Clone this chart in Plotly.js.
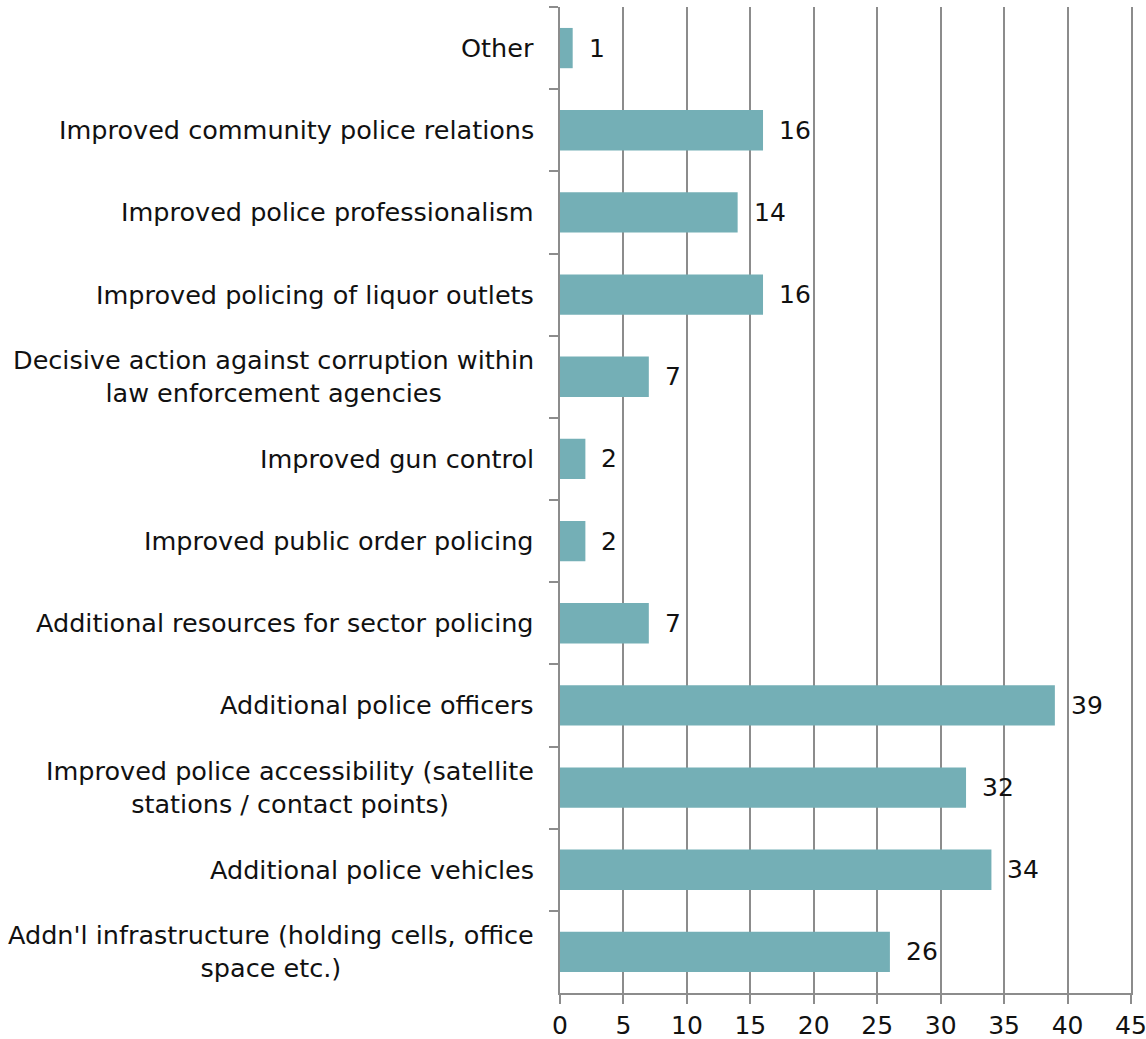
<!DOCTYPE html>
<html>
<head>
<meta charset="utf-8">
<script src="https://cdn.plot.ly/plotly-3.0.1.min.js"></script>
<style>html,body{margin:0;padding:0;background:#fff;}#chart{width:1146px;height:1039px;}</style>
</head>
<body>
<div id="chart"></div>
<script>
const categories = [
  "Other",
  "Improved community police relations",
  "Improved police professionalism",
  "Improved policing of liquor outlets",
  "Decisive action against corruption within<br>law enforcement agencies",
  "Improved gun control",
  "Improved public order policing",
  "Additional resources for sector policing",
  "Additional police officers",
  "Improved police accessibility (satellite<br>stations / contact points)",
  "Additional police vehicles",
  "Addn'l infrastructure (holding cells, office<br>space etc.)"
];
const values = [1, 16, 14, 16, 7, 2, 2, 7, 39, 32, 34, 26];
const xTicks = [0, 5, 10, 15, 20, 25, 30, 35, 40, 45];

const FONT = "DejaVu Sans, sans-serif";
const GRID = "#8c8c8c";

const labelAnns = categories.map((c) => ({
  xref: "paper", yref: "y", x: 0, y: c, text: c,
  xanchor: "right", yanchor: "middle", align: "center",
  xshift: -24, showarrow: false,
  font: {family: FONT, size: 25.5, color: "#111"}
}));
const valueAnns = categories.map((c, i) => ({
  xref: "x", yref: "y", x: values[i], y: c, text: String(values[i]),
  xanchor: "left", yanchor: "middle", xshift: 14, showarrow: false,
  font: {family: FONT, size: 25, color: "#111"}
}));

const trace = {
  type: "bar", orientation: "h",
  x: values, y: categories,
  marker: {color: "#74AFB6"},
  hoverinfo: "none"
};

const layout = {
  width: 1146, height: 1039,
  margin: {l: 560, r: 15, t: 7, b: 46},
  paper_bgcolor: "#fff", plot_bgcolor: "#fff",
  bargap: 0.51,
  showlegend: false,
  font: {family: FONT, size: 25, color: "#111"},
  xaxis: {
    range: [0, 45], tickvals: xTicks, ticktext: xTicks.map(String),
    showgrid: true, gridcolor: GRID, gridwidth: 2,
    zeroline: false, showline: true, linecolor: GRID, linewidth: 2,
    ticks: "outside", ticklen: 9, tickwidth: 2, tickcolor: GRID,
    ticklabeloverflow: "allow",
    tickfont: {family: FONT, size: 25, color: "#111"}
  },
  yaxis: {
    type: "category", autorange: "reversed",
    showticklabels: false, showgrid: false, zeroline: false,
    showline: true, mirror: true, linecolor: GRID, linewidth: 2,
    ticks: "outside", tickson: "boundaries", ticklen: 9, tickwidth: 2, tickcolor: GRID
  },
  annotations: labelAnns.concat(valueAnns)
};

Plotly.newPlot("chart", [trace], layout, {displayModeBar: false, staticPlot: true});
</script>
</body>
</html>
